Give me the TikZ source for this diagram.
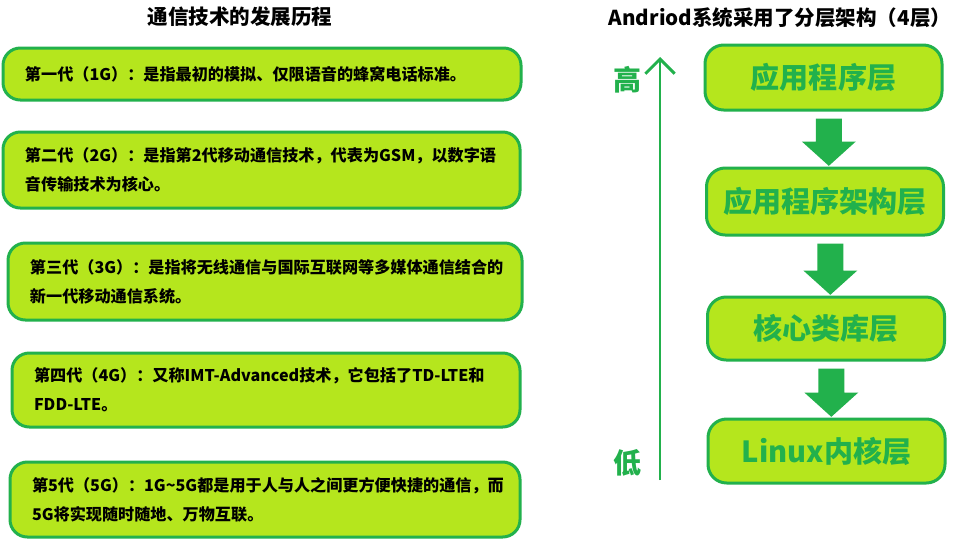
\documentclass[tikz,border=0pt]{standalone}
\usepackage{fontspec}
\setmainfont{Noto Sans CJK SC}
\usetikzlibrary{arrows.meta,calc}
\definecolor{pgreen}{HTML}{22B14C}
\definecolor{plime}{HTML}{B5E61D}
\tikzset{
  lbox/.style={draw=pgreen, fill=plime, line width=2.25pt, rounded corners=13pt,
    inner xsep=16.5pt, align=left, font=\bfseries\fontsize{12.1}{21.75}\selectfont},
  rbox/.style={draw=pgreen, fill=plime, line width=2.25pt, rounded corners=14pt,
    text=pgreen, minimum width=177.75pt, font=\bfseries\fontsize{21.8}{24}\selectfont},
  ttl/.style={font=\bfseries\fontsize{15.4}{18}\selectfont},
  side/.style={text=pgreen, font=\bfseries\fontsize{21}{24}\selectfont},
}
\newcommand\blockarrow[2]{\fill[pgreen] let \p1=(#1.south), \p2=(#2.north) in
  (\x1+4pt-9.75pt,\y1-5.25pt) -- (\x1+4pt+9.75pt,\y1-5.25pt) -- (\x1+4pt+9.75pt,\y2+18.75pt)
  -- (\x1+4pt+20.25pt,\y2+18.75pt) -- (\x1+4pt,\y2+0.5pt) -- (\x1+4pt-20.25pt,\y2+18.75pt)
  -- (\x1+4pt-9.75pt,\y2+18.75pt) -- cycle;}
\begin{document}
\begin{tikzpicture}[x=0.75pt, y=-0.75pt]
\useasboundingbox[fill=white] (0,0) rectangle (972,540);
% left column
\node[ttl] (t1) at (240,17) {通信技术的发展历程};
\node[lbox, text width=355.5pt, minimum height=39pt] (g1) at (262,74)
  {第一代（1G）：是指最初的模拟、仅限语音的蜂窝电话标准。};
\node[lbox, text width=354.75pt, minimum height=57pt] (g2) at (261.5,170)
  {第二代（2G）：是指第2代移动通信技术，代表为GSM，以数字语\\音传输技术为核心。};
\node[lbox, text width=352.5pt, minimum height=57.75pt] (g3) at (265,281.5)
  {第三代（3G）：是指将无线通信与国际互联网等多媒体通信结合的\\新一代移动通信系统。};
\node[lbox, text width=348pt, minimum height=55.5pt] (g4) at (266,390)
  {第四代（4G）：又称IMT-Advanced技术，它包括了TD-LTE和\\FDD-LTE。};
\node[lbox, text width=349.5pt, minimum height=56.25pt] (g5) at (265,499.5)
  {第5代（5G）：1G\textasciitilde5G都是用于人与人之间更方便快捷的通信，而\\5G将实现随时随地、万物互联。};
% right column
\node[ttl] (t2) at (780,18) {Andriod系统采用了分层架构（4层）};
\node[rbox, minimum height=48.75pt] (r1) at (823.5,77.5) {应用程序层};
\node[rbox, minimum height=50.25pt] (r2) at (825,201.5) {应用程序架构层};
\node[rbox, minimum height=47.25pt] (r3) at (826,328.5) {核心类库层};
\node[rbox, minimum height=48pt] (r4) at (826.5,451) {Linux内核层};
\blockarrow{r1}{r2}
\blockarrow{r2}{r3}
\blockarrow{r3}{r4}
% level axis
\node[side] (hi) at (627,80) {高};
\node[side] (lo) at (627,463) {低};
\coordinate (ab) at (660,480);
\coordinate (at) at (660,57);
\draw[pgreen, line width=2.2pt, -{Straight Barb[length=11pt, width=22pt, line width=2.2pt]}] (ab) -- (at);
\end{tikzpicture}
\end{document}
